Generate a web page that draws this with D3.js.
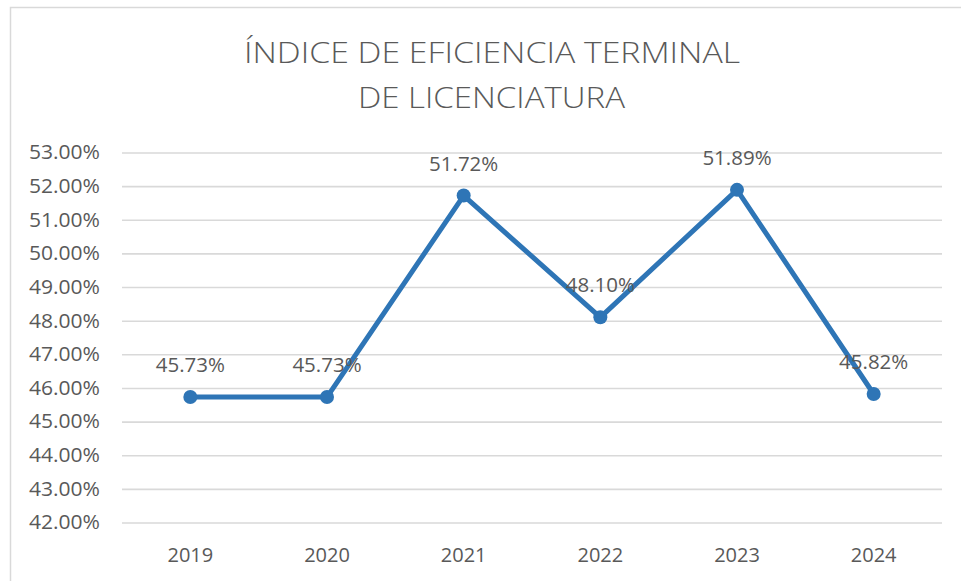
<!DOCTYPE html>
<html>
<head>
<meta charset="utf-8">
<script src="https://cdn.jsdelivr.net/npm/d3@7"></script>
<style>
  html, body { margin: 0; padding: 0; background: #fff; }
  svg { display: block; }
  text { font-family: "Open Sans", "DejaVu Sans", sans-serif; fill: #595959; }
</style>
</head>
<body>
<svg id="chart" width="961" height="581"></svg>
<script>
const titleLines = ["ÍNDICE DE EFICIENCIA TERMINAL", "DE LICENCIATURA"];
const years = ["2019", "2020", "2021", "2022", "2023", "2024"];
const values = [45.73, 45.73, 51.72, 48.10, 51.89, 45.82];
const yTicks = [42, 43, 44, 45, 46, 47, 48, 49, 50, 51, 52, 53];

const svg = d3.select("#chart");
const W = 961, H = 581;
svg.append("rect").attr("width", W).attr("height", H).attr("fill", "#fff");

// outer chart border (left and top visible)
svg.append("path")
  .attr("d", `M10.5,${H} L10.5,7.5 L${W},7.5`)
  .attr("fill", "none").attr("stroke", "#d9d9d9").attr("stroke-width", 1.5);

const plot = { left: 122, right: 942, top: 152.5, bottom: 522.5 };

const x = d3.scaleBand().domain(years).range([plot.left, plot.right]).padding(0);
const y = d3.scaleLinear().domain([42, 53]).range([plot.bottom, plot.top]);

// title
const title = svg.append("g");
title.append("text").attr("x", 492).attr("y", 63).attr("text-anchor", "middle")
  .attr("font-size", 30).attr("font-weight", 300)
  .attr("textLength", 496).attr("lengthAdjust", "spacingAndGlyphs")
  .text(titleLines[0]);
title.append("text").attr("x", 491.5).attr("y", 108).attr("text-anchor", "middle")
  .attr("font-size", 30).attr("font-weight", 300)
  .attr("textLength", 267).attr("lengthAdjust", "spacingAndGlyphs")
  .text(titleLines[1]);

// y axis with gridlines
const yAxis = d3.axisLeft(y).tickValues(yTicks)
  .tickFormat(d => d3.format(".2f")(d) + "%")
  .tickSize(-(plot.right - plot.left)).tickPadding(22);
const gy = svg.append("g").attr("transform", `translate(${plot.left},0)`).call(yAxis);
gy.select(".domain").remove();
gy.selectAll(".tick line").attr("stroke", "#d9d9d9").attr("stroke-width", 1.6);
gy.selectAll(".tick text").attr("font-size", 20).attr("fill", "#595959")
  .attr("font-family", "'Open Sans', sans-serif")
  .attr("textLength", 71).attr("lengthAdjust", "spacingAndGlyphs");

// x axis labels
const xAxis = d3.axisBottom(x).tickSize(0).tickPadding(0);
const gx = svg.append("g").attr("transform", `translate(0,${plot.bottom})`).call(xAxis);
gx.select(".domain").remove();
gx.selectAll(".tick text").attr("font-size", 20).attr("fill", "#595959")
  .attr("font-family", "'Open Sans', sans-serif")
  .attr("dy", null).attr("y", 39);

const cx = d => x(d) + x.bandwidth() / 2;
const data = years.map((yr, i) => ({ yr, v: values[i] }));

// line
svg.append("path").datum(data)
  .attr("fill", "none").attr("stroke", "#2e75b6").attr("stroke-width", 5)
  .attr("stroke-linejoin", "round").attr("stroke-linecap", "round")
  .attr("d", d3.line().x(d => cx(d.yr)).y(d => y(d.v)));

// markers
svg.append("g").selectAll("circle").data(data).join("circle")
  .attr("cx", d => cx(d.yr)).attr("cy", d => y(d.v)).attr("r", 7)
  .attr("fill", "#2e75b6");

// data labels
svg.append("g").selectAll("text").data(data).join("text")
  .attr("x", d => cx(d.yr)).attr("y", d => y(d.v) - 25)
  .attr("text-anchor", "middle").attr("font-size", 20.5).attr("fill", "#404040")
  .text(d => d3.format(".2f")(d.v) + "%");
</script>
</body>
</html>
